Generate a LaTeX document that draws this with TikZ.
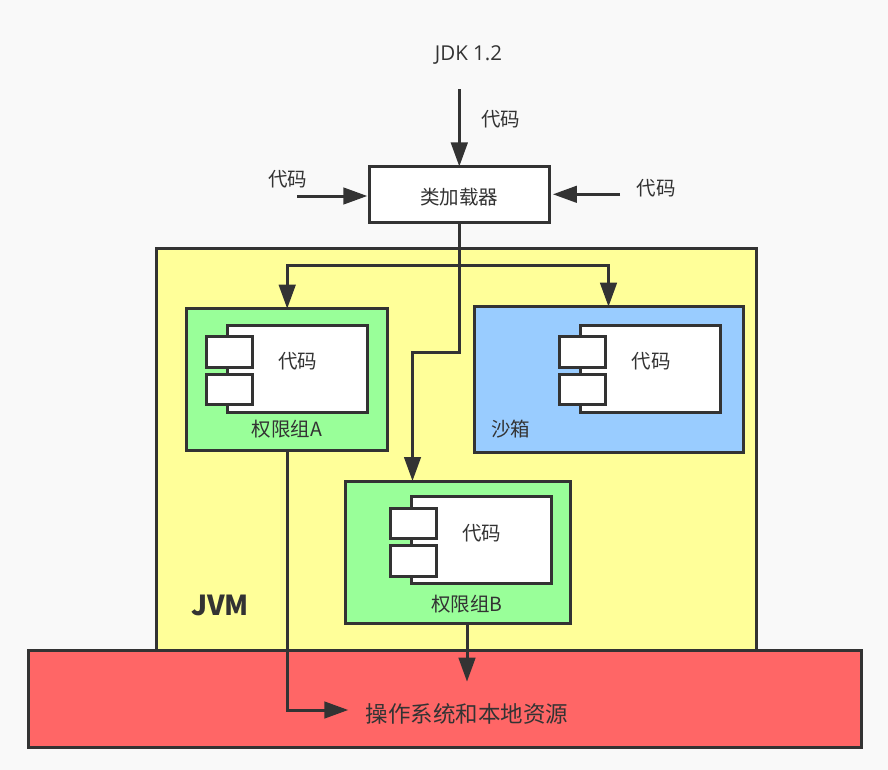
\documentclass[tikz,border=0pt]{standalone}
\usepackage{fontspec}
\setmainfont{Noto Sans CJK SC}
\newfontfamily\latinlabel{Open Sans}
\usetikzlibrary{arrows.meta,positioning}
\definecolor{ink}{HTML}{333333}
\definecolor{paper}{HTML}{F9F9F9}
\definecolor{jvmfill}{HTML}{FFFF99}
\definecolor{groupfill}{HTML}{99FF99}
\definecolor{sandfill}{HTML}{99CCFF}
\definecolor{osfill}{HTML}{FF6666}
\tikzset{
  x=1pt,y=-1pt,
  box/.style={draw=ink,line width=3pt,minimum width=#1,inner sep=0pt,anchor=north west,outer sep=0pt},
  label/.style={text=ink,font=\fontsize{19.5}{20}\selectfont,inner sep=0pt},
  conn/.style={draw=ink,line width=3pt,-{Triangle[length=24pt,width=16.5pt]}},
  tabbox/.style={draw=ink,line width=3pt,fill=white,minimum width=45.5pt,minimum height=30.5pt,inner sep=0pt,outer sep=0pt,anchor=north west},
  corebox/.style={draw=ink,line width=3pt,fill=white,minimum width=140pt,minimum height=87pt,inner sep=0pt,outer sep=0pt,anchor=north west},
}
\begin{document}
\begin{tikzpicture}
\useasboundingbox[fill=paper] (0,0) rectangle (888,770);

% Outer regions
\node[box=600pt,minimum height=402pt,fill=jvmfill] (jvm) at (156.5,248.5) {};
\node[box=833.5pt,minimum height=96.6pt,fill=osfill] (os) at (28,650.7) {};
\node[box=180.2pt,minimum height=56pt,fill=white] (loader) at (369.3,166.5) {};
\node[label] at (459,197.5) {类加载器};

% Permission group A
\node[box=201pt,minimum height=142pt,fill=groupfill] (groupA) at (186.7,308.7) {};
\node[corebox] (coreA) at (227.3,325) {};
\node[tabbox] (tabA1) at (206.7,336.7) {};
\node[tabbox] (tabA2) at (206.7,374.3) {};
\node[label] at (297.5,361.5) {代码};
\node[label] at (287,429.5) {权限组A};

% Sandbox
\node[box=269.3pt,minimum height=145.3pt,fill=sandfill] (sandbox) at (474,306.7) {};
\node[corebox] (coreS) at (580.7,325) {};
\node[tabbox] (tabS1) at (559.9,336.7) {};
\node[tabbox] (tabS2) at (559.9,374.3) {};
\node[label] at (651,361.5) {代码};
\node[label] at (510.5,429.5) {沙箱};

% Permission group B
\node[box=225pt,minimum height=142.3pt,fill=groupfill] (groupB) at (345.7,481) {};
\node[corebox] (coreB) at (411,496) {};
\node[tabbox] (tabB1) at (390.5,508) {};
\node[tabbox] (tabB2) at (390.5,545.6) {};
\node[label] at (481.5,533.5) {代码};
\node[label] at (467,604.5) {权限组B};

% Free labels
\node[text=ink,inner sep=0pt,font=\latinlabel\fontsize{20.5}{21}\selectfont] (jdk) at (468.5,55) {JDK 1.2};
\node[label] at (500.5,119.5) {代码};
\node[label] at (287.5,179.5) {代码};
\node[label] at (656,188.5) {代码};
\node[text=ink,inner sep=0pt,font=\fontsize{27.5}{28}\selectfont\bfseries] at (220,605.5) {JVM};
\node[text=ink,inner sep=0pt,font=\fontsize{22.5}{23}\selectfont] (ostext) at (467,713.5) {操作系统和本地资源};

% Connector end points
\coordinate (jdkfoot) at (459.3,89.3);
\coordinate (leftin) at (297.3,196);
\coordinate (rightin) at (620,194.3);
\coordinate (osdrop) at (467,681.7);
\coordinate (ostarget) at (348.3,710);

% Connectors
\draw[conn] (jdkfoot) -- (jdkfoot |- loader.north);
\draw[conn,shorten >=2pt] (leftin) -- (leftin -| loader.west);
\draw[conn,shorten >=3.4pt] (rightin) -- (rightin -| loader.east);
\draw[conn] (loader.south -| jdkfoot) -- (459.3,265) -| (groupA.north);
\draw[conn] (459.3,265) -| (608.5,306.7);
\draw[conn] (loader.south -| jdkfoot) -- (459.3,352) -- (412.5,352) -- (412.5,481);
\draw[conn] (groupA.south) -- (287.2,710) -- (ostarget);
\draw[conn] (osdrop |- groupB.south) -- (osdrop);
\end{tikzpicture}
\end{document}
